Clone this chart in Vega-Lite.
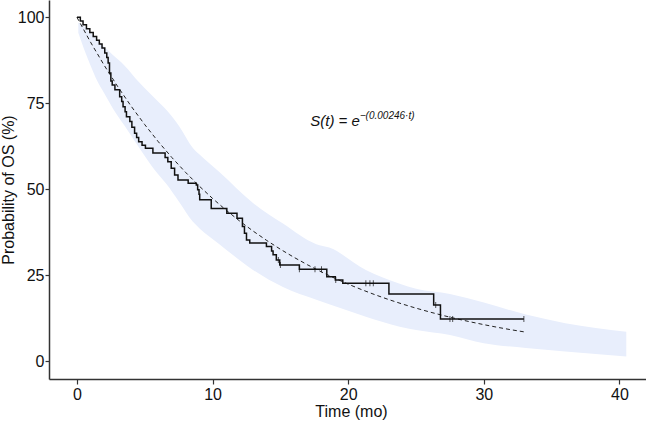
{
  "$schema": "https://vega.github.io/schema/vega-lite/v6.json",
  "autosize": "none",
  "width": 604,
  "height": 379,
  "padding": {"left": 49, "top": 0, "right": 0, "bottom": 42},
  "background": "white",
  "config": {
    "view": {"stroke": null},
    "font": "Liberation Sans",
    "axis": {
      "grid": false,
      "domainColor": "#333333",
      "domainWidth": 1.5,
      "tickColor": "#333333",
      "tickWidth": 1.2,
      "labelColor": "#111111",
      "titleColor": "#111111",
      "labelFont": "Liberation Sans",
      "titleFont": "Liberation Sans",
      "labelFontSize": 16,
      "titleFontSize": 16,
      "titleFontWeight": "normal"
    }
  },
  "datasets": {
    "band": [
      {"t": 0.1, "lo": 95.5, "hi": 98.5},
      {"t": 0.5, "lo": 91.0, "hi": 97.5},
      {"t": 1.0, "lo": 86.0, "hi": 95.5},
      {"t": 1.5, "lo": 81.5, "hi": 93.5},
      {"t": 2.0, "lo": 78.0, "hi": 91.5},
      {"t": 2.65, "lo": 73.5, "hi": 89.0},
      {"t": 3.5, "lo": 68.5, "hi": 86.0},
      {"t": 4.6, "lo": 62.0, "hi": 81.0},
      {"t": 5.85, "lo": 55.0, "hi": 76.0},
      {"t": 6.6, "lo": 51.5, "hi": 73.0},
      {"t": 7.5, "lo": 46.5, "hi": 68.5},
      {"t": 8.55, "lo": 40.5, "hi": 62.0},
      {"t": 9.06, "lo": 38.5, "hi": 60.0},
      {"t": 10.5, "lo": 34.0, "hi": 55.0},
      {"t": 12.98, "lo": 26.5, "hi": 46.0},
      {"t": 15.19, "lo": 21.5, "hi": 40.0},
      {"t": 17.65, "lo": 17.8, "hi": 34.0},
      {"t": 18.6, "lo": 16.5, "hi": 33.0},
      {"t": 21.3, "lo": 12.9, "hi": 26.5},
      {"t": 23.8, "lo": 10.0, "hi": 22.5},
      {"t": 25.0, "lo": 9.0, "hi": 21.0},
      {"t": 27.5, "lo": 7.6, "hi": 19.5},
      {"t": 30.0, "lo": 5.2, "hi": 17.0},
      {"t": 33.1, "lo": 3.8, "hi": 13.5},
      {"t": 36.0, "lo": 2.8, "hi": 11.0},
      {"t": 40.5, "lo": 1.3, "hi": 8.5}
    ],
    "fit": [
      {"t": 0, "S": 100}, {"t": 1, "S": 92.78}, {"t": 2, "S": 86.09}, {"t": 3, "S": 79.88},
      {"t": 4, "S": 74.11}, {"t": 5, "S": 68.77}, {"t": 6, "S": 63.8}, {"t": 7, "S": 59.2},
      {"t": 8, "S": 54.93}, {"t": 9, "S": 50.96}, {"t": 10, "S": 47.29}, {"t": 11, "S": 43.87},
      {"t": 12, "S": 40.71}, {"t": 13, "S": 37.77}, {"t": 14, "S": 35.05}, {"t": 15, "S": 32.52},
      {"t": 16, "S": 30.17}, {"t": 17, "S": 27.99}, {"t": 18, "S": 25.97}, {"t": 19, "S": 24.1},
      {"t": 20, "S": 22.36}, {"t": 21, "S": 20.75}, {"t": 22, "S": 19.25}, {"t": 23, "S": 17.86},
      {"t": 24, "S": 16.57}, {"t": 25, "S": 15.38}, {"t": 26, "S": 14.27}, {"t": 27, "S": 13.24},
      {"t": 28, "S": 12.28}, {"t": 29, "S": 11.4}, {"t": 30, "S": 10.58}, {"t": 31, "S": 9.81},
      {"t": 32, "S": 9.1}, {"t": 33.1, "S": 8.4}
    ],
    "km": [
      {"t": 0, "S": 100}, {"t": 0.25, "S": 98.9}, {"t": 0.45, "S": 97.8}, {"t": 0.7, "S": 96.7},
      {"t": 0.95, "S": 95.6}, {"t": 1.2, "S": 94.4}, {"t": 1.45, "S": 93.3}, {"t": 1.65, "S": 92.2},
      {"t": 1.85, "S": 91.1}, {"t": 2.05, "S": 89.6}, {"t": 2.2, "S": 88.3}, {"t": 2.3, "S": 86.7},
      {"t": 2.4, "S": 83.8}, {"t": 2.5, "S": 81.5}, {"t": 2.6, "S": 80.3}, {"t": 2.8, "S": 78.9},
      {"t": 3.15, "S": 76.9}, {"t": 3.3, "S": 75.5}, {"t": 3.4, "S": 74.0}, {"t": 3.55, "S": 72.5},
      {"t": 3.65, "S": 71.1}, {"t": 3.9, "S": 69.7}, {"t": 4.05, "S": 68.0}, {"t": 4.25, "S": 66.3},
      {"t": 4.4, "S": 65.0}, {"t": 4.55, "S": 63.8}, {"t": 4.8, "S": 62.8}, {"t": 5.05, "S": 61.9},
      {"t": 5.6, "S": 60.5}, {"t": 6.5, "S": 59.2}, {"t": 6.7, "S": 58.0}, {"t": 6.95, "S": 56.1},
      {"t": 7.2, "S": 54.1}, {"t": 7.45, "S": 52.7}, {"t": 8.2, "S": 51.7}, {"t": 8.8, "S": 51.2},
      {"t": 8.9, "S": 49.8}, {"t": 9.0, "S": 48.5}, {"t": 9.05, "S": 46.9}, {"t": 9.9, "S": 44.4},
      {"t": 11.05, "S": 43.0}, {"t": 11.8, "S": 41.5}, {"t": 12.2, "S": 39.1}, {"t": 12.35, "S": 37.2},
      {"t": 12.5, "S": 35.2}, {"t": 12.74, "S": 34.3}, {"t": 13.97, "S": 33.3}, {"t": 14.35, "S": 32.0},
      {"t": 14.46, "S": 30.9}, {"t": 14.7, "S": 29.4}, {"t": 14.95, "S": 27.9}, {"t": 16.4, "S": 26.7},
      {"t": 18.42, "S": 24.5}, {"t": 19.05, "S": 23.6}, {"t": 19.6, "S": 22.6}, {"t": 23.0, "S": 19.5},
      {"t": 26.3, "S": 16.3}, {"t": 26.8, "S": 12.2}, {"t": 32.95, "S": 12.2}
    ],
    "cens": [
      {"t": 14.85, "S": 29.4}, {"t": 15.0, "S": 27.9}, {"t": 16.4, "S": 26.7},
      {"t": 17.55, "S": 26.7}, {"t": 18.03, "S": 26.7}, {"t": 19.08, "S": 23.6},
      {"t": 21.3, "S": 22.6}, {"t": 21.6, "S": 22.6}, {"t": 21.85, "S": 22.6},
      {"t": 26.45, "S": 16.3}, {"t": 27.5, "S": 12.2}, {"t": 27.7, "S": 12.2},
      {"t": 32.95, "S": 12.2}
    ]
  },
  "layer": [
    {
      "data": {"name": "band"},
      "mark": {"type": "area", "color": "#e8eefc", "opacity": 1, "interpolate": "monotone"},
      "encoding": {
        "x": {"field": "t", "type": "quantitative",
              "scale": {"domain": [-2.06, 42.47], "nice": false, "zero": false},
              "axis": {"values": [0, 10, 20, 30, 40], "title": "Time (mo)", "tickSize": 5, "labelPadding": 2, "titlePadding": 1}},
        "y": {"field": "lo", "type": "quantitative",
              "scale": {"domain": [-5.23, 105.03], "nice": false, "zero": false},
              "axis": {"values": [0, 25, 50, 75, 100], "title": "Probability of OS (%)", "tickSize": 4, "labelPadding": 1, "titlePadding": 1}},
        "y2": {"field": "hi"}
      }
    },
    {
      "data": {"name": "fit"},
      "mark": {"type": "line", "color": "#222222", "strokeWidth": 1, "strokeDash": [4, 3]},
      "encoding": {
        "x": {"field": "t", "type": "quantitative"},
        "y": {"field": "S", "type": "quantitative"}
      }
    },
    {
      "data": {"name": "km"},
      "mark": {"type": "line", "color": "#111111", "strokeWidth": 1.5, "interpolate": "step-after"},
      "encoding": {
        "x": {"field": "t", "type": "quantitative"},
        "y": {"field": "S", "type": "quantitative"}
      }
    },
    {
      "data": {"name": "cens"},
      "mark": {"type": "tick", "orient": "vertical", "color": "#111111", "size": 6, "thickness": 1},
      "encoding": {
        "x": {"field": "t", "type": "quantitative"},
        "y": {"field": "S", "type": "quantitative"}
      }
    },
    {
      "data": {"values": [{"t": 17.2, "S": 68.3, "label": "S(t) = e"}]},
      "mark": {"type": "text", "align": "left", "baseline": "alphabetic", "fontSize": 15, "fontStyle": "italic", "font": "Liberation Sans", "color": "#111111"},
      "encoding": {
        "x": {"field": "t", "type": "quantitative"},
        "y": {"field": "S", "type": "quantitative"},
        "text": {"field": "label"}
      }
    },
    {
      "data": {"values": [{"t": 20.85, "S": 70.5, "label": "−(0.00246·t)"}]},
      "mark": {"type": "text", "align": "left", "baseline": "alphabetic", "fontSize": 10, "fontStyle": "italic", "font": "Liberation Sans", "color": "#111111"},
      "encoding": {
        "x": {"field": "t", "type": "quantitative"},
        "y": {"field": "S", "type": "quantitative"},
        "text": {"field": "label"}
      }
    }
  ]
}
